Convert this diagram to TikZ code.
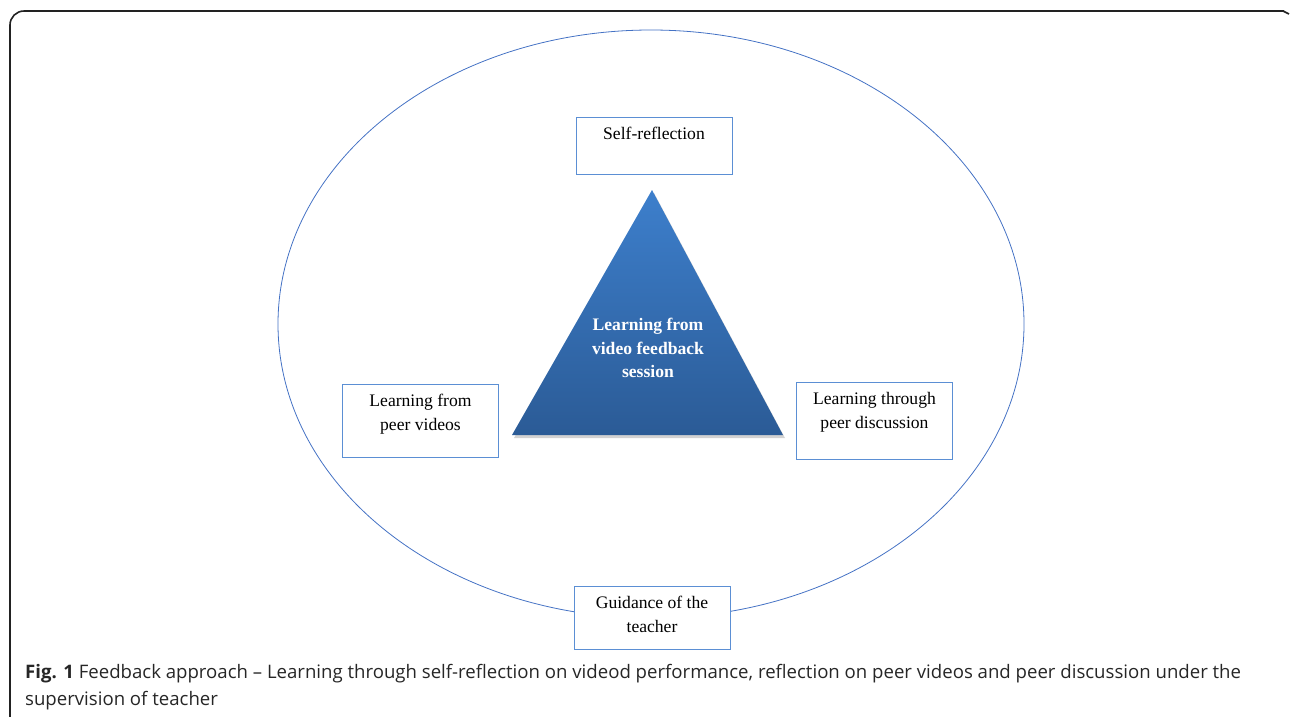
\documentclass[tikz,border=0pt]{standalone}
\usepackage{fontspec}
\setmainfont{Liberation Serif}
\newfontfamily\capfont{Open Sans}
\definecolor{ellblue}{HTML}{4472C4}
\definecolor{boxblue}{HTML}{5B8FD4}
\definecolor{tritop}{HTML}{3D7FCC}
\definecolor{tribot}{HTML}{2B5B96}
\definecolor{frame}{HTML}{222222}
\tikzset{
  labelbox/.style={draw=boxblue, line width=0.9pt, fill=white, minimum width=156pt, anchor=north, inner sep=0pt},
  boxtext/.style={font=\fontsize{17.6}{24}\selectfont, align=center, anchor=north, inner sep=0pt},
  captext/.style={anchor=north west, align=left, font=\capfont\fontsize{18.6}{27}\selectfont, text=black!85, inner sep=0pt}
}
\begin{document}
\begin{tikzpicture}[x=1pt,y=-1pt]
\useasboundingbox (0,0) rectangle (1290,716);
% frame
\draw[frame, line width=1.6pt, rounded corners=14pt] (10,730) -- (10,11) -- (1284,11);
\draw[frame, line width=1.6pt] (1283,11) -- (1289,14);
% ellipse
\draw[ellblue, line width=0.8pt] (651,324) ellipse[x radius=373, y radius=294];
% triangle shadow
\fill[black!35, opacity=0.5] (654,193) -- (785,438) -- (514,438) -- cycle;
% triangle
\shade[top color=tritop, bottom color=tribot] (652,190) -- (783,435) -- (512,435) -- cycle;
\node[text=white, font=\bfseries\fontsize{17.6}{23.5}\selectfont, align=center] (tri) at (648,348) {Learning from\\video feedback\\session};
% boxes
\node[labelbox, minimum height=57pt] (self) at (654,117) {};
\node[labelbox, minimum height=73pt] (left) at (420.5,384) {};
\node[labelbox, minimum height=77pt] (right) at (874.5,382) {};
\node[labelbox, minimum height=63pt] (bot) at (652,586) {};
\node[boxtext] (st) at (654,127) {Self-reflection};
\node[boxtext] (lt) at (420.5,394) {Learning from\\peer videos};
\node[boxtext] (rt) at (874.5,392) {Learning through\\peer discussion};
\node[boxtext] (bt) at (652,596) {Guidance of the\\teacher};
% caption
\node[captext] (cap) at (25,664) {{\bfseries Fig. 1} Feedback approach – Learning through self-reflection on videod performance, reflection on peer videos and peer discussion under the\\supervision of teacher};
\end{tikzpicture}
\end{document}
